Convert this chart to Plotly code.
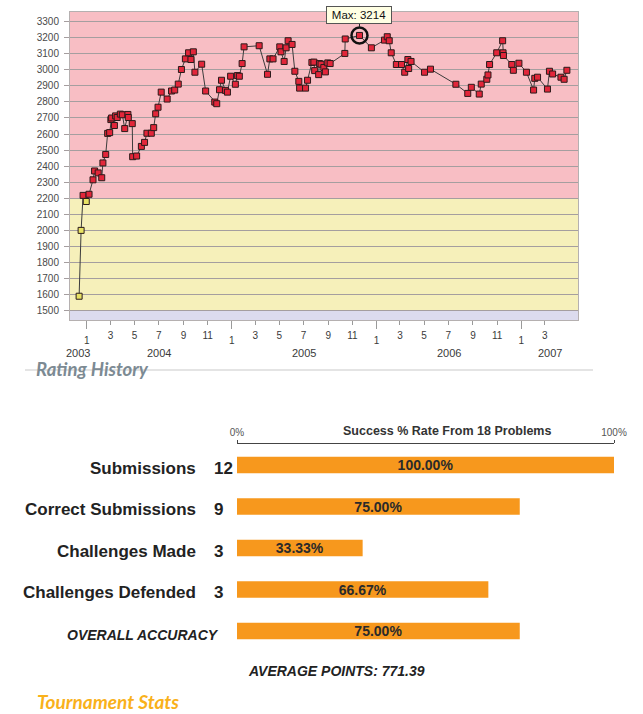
import plotly.graph_objects as go
from datetime import datetime

W, H = 643, 714
def PX(x):
    return x / W
def PY(y):
    return 1 - y / H

# ---------------- data ----------------
rating_dates = [
    "2003-12-13", "2003-12-18", "2003-12-23", "2003-12-31", "2004-01-07", "2004-01-17",
    "2004-01-21", "2004-01-30", "2004-02-08", "2004-02-11", "2004-02-18", "2004-02-23",
    "2004-02-28", "2004-03-02", "2004-03-04", "2004-03-11", "2004-03-14", "2004-03-18",
    "2004-03-26", "2004-03-31", "2004-04-06", "2004-04-14", "2004-04-15", "2004-04-25",
    "2004-04-26", "2004-05-06", "2004-05-18", "2004-05-26", "2004-06-01", "2004-06-12",
    "2004-06-18", "2004-06-23", "2004-06-29", "2004-07-07", "2004-07-22", "2004-08-02",
    "2004-08-10", "2004-08-19", "2004-08-27", "2004-09-06", "2004-09-14", "2004-09-20",
    "2004-09-26", "2004-09-30", "2004-10-17", "2004-10-27", "2004-11-19", "2004-11-24",
    "2004-12-01", "2004-12-06", "2004-12-16", "2004-12-21", "2004-12-29", "2005-01-10",
    "2005-01-15", "2005-01-20", "2005-01-27", "2005-02-01", "2005-03-11", "2005-04-01",
    "2005-04-07", "2005-04-15", "2005-05-02", "2005-05-05", "2005-05-13", "2005-05-18",
    "2005-05-23", "2005-06-02", "2005-06-09", "2005-06-19", "2005-06-21", "2005-07-06",
    "2005-07-11", "2005-07-22", "2005-07-27", "2005-07-29", "2005-08-08", "2005-08-10",
    "2005-08-14", "2005-08-21", "2005-08-25", "2005-08-31", "2005-09-06", "2005-10-13",
    "2005-10-14", "2005-11-19", "2005-12-19", "2006-01-21", "2006-01-28", "2006-02-02",
    "2006-02-07", "2006-02-20", "2006-03-05", "2006-03-13", "2006-03-21", "2006-03-23",
    "2006-03-29", "2006-05-02", "2006-05-17", "2006-07-20", "2006-08-19", "2006-08-28",
    "2006-09-17", "2006-09-22", "2006-10-06", "2006-10-09", "2006-10-13", "2006-10-31",
    "2006-11-15", "2006-11-16", "2006-11-17", "2006-12-08", "2006-12-12", "2006-12-26",
    "2007-01-14", "2007-02-01", "2007-02-04", "2007-02-11", "2007-03-08", "2007-03-13",
    "2007-03-21", "2007-04-11", "2007-04-19", "2007-04-26",
]
rating_values = [
    1590, 2000, 2218, 2180, 2225, 2315,
    2370, 2358, 2328, 2420, 2473, 2604,
    2609, 2690, 2700, 2653, 2713, 2703,
    2724, 2720, 2634, 2722, 2703, 2665,
    2459, 2463, 2523, 2548, 2605, 2605,
    2640, 2726, 2767, 2861, 2818, 2868,
    2874, 2911, 3002, 3068, 3106, 3064,
    3112, 2985, 3035, 2868, 2799, 2789,
    2876, 2935, 2872, 2861, 2960, 2910,
    2964, 2960, 3039, 3143, 3150, 2972,
    3068, 3068, 3143, 3112, 3052, 3137,
    3181, 3158, 2991, 2928, 2886, 2886,
    2935, 3046, 3048, 2995, 2970, 3039,
    3035, 3014, 2987, 3043, 3039, 3102,
    3192, 3214, 3137, 3185, 3206, 3181,
    3106, 3033, 3033, 2985, 3064, 3008,
    3052, 2985, 3004, 2910, 2853, 2891,
    2849, 2911, 2941, 2968, 3033, 3106,
    3181, 3106, 3089, 3033, 2997, 3041,
    2985, 2874, 2947, 2954, 2880, 2991,
    2974, 2954, 2941, 2997,
]

month_tick_dates = [
    "2004-03-01", "2004-05-01", "2004-07-01", "2004-09-01", "2004-11-01",
    "2005-03-01", "2005-05-01", "2005-07-01", "2005-09-01", "2005-11-01",
    "2006-03-01", "2006-05-01", "2006-07-01", "2006-09-01", "2006-11-01",
    "2007-03-01",
]
month_tick_text = ["3", "5", "7", "9", "11",
                   "3", "5", "7", "9", "11",
                   "3", "5", "7", "9", "11",
                   "3"]
jan_tick_dates = ["2004-01-01", "2005-01-01", "2006-01-01", "2007-01-01"]
jan_tick_text = ["1", "1", "1", "1"]
year_labels = ["2003", "2004", "2005", "2006", "2007"]

stat_names = ["Submissions", "Correct Submissions", "Challenges Made",
              "Challenges Defended", "OVERALL ACCURACY"]
stat_counts = [12, 9, 3, 3, None]
stat_pct = [100.00, 75.00, 33.33, 66.67, 75.00]
problems_total = 18
avg_points = 771.39

# ---------------- style constants ----------------
TIER_RED = 2200
TIER_YELLOW = 1500
Y_RANGE = [1442, 3360]
X_RANGE = ["2003-11-20", "2007-05-24"]
RED_FILL = "#e2263a"
YELLOW_FILL = "#e8e264"
RED_BAND = "#f8bec4"
YELLOW_BAND = "#f6f0ba"
LAV_BAND = "#dcdbee"
GRID = "#a59e9f"
BAR_COLOR = "#f7981d"
FONT = "Liberation Sans"

fig = go.Figure()

marker_colors = [RED_FILL if v >= TIER_RED else YELLOW_FILL for v in rating_values]
fig.add_trace(go.Scatter(
    x=rating_dates, y=rating_values, mode="lines+markers",
    line=dict(color="#3c3c3c", width=1),
    marker=dict(symbol="square", size=6, color=marker_colors,
                line=dict(color="#2a1a1a", width=1)),
    xaxis="x", yaxis="y", hoverinfo="skip",
))

imax = max(range(len(rating_values)), key=lambda i: rating_values[i])
fig.add_trace(go.Scatter(
    x=[rating_dates[imax]], y=[rating_values[imax]], mode="markers",
    marker=dict(symbol="circle-open", size=16, color="#111111",
                line=dict(color="#111111", width=2.5)),
    xaxis="x", yaxis="y", hoverinfo="skip",
))
# empty trace that materialises the January-tick overlay axis
fig.add_trace(go.Scatter(x=[], y=[], xaxis="x2", yaxis="y", hoverinfo="skip"))

fig.add_trace(go.Bar(
    y=stat_names, x=stat_pct, orientation="h", xaxis="x3", yaxis="y3",
    width=0.4, marker=dict(color=BAR_COLOR, line=dict(width=0)),
    text=[f"{v:.2f}%" for v in stat_pct], textposition="inside",
    insidetextanchor="middle", constraintext="none",
    textfont=dict(family=FONT, size=14, color="#2a2a2a", weight="bold"),
    hoverinfo="skip",
))

shapes = [
    dict(type="rect", xref="x domain", yref="y", x0=0, x1=1, y0=TIER_RED, y1=Y_RANGE[1],
         fillcolor=RED_BAND, line=dict(width=0), layer="below"),
    dict(type="rect", xref="x domain", yref="y", x0=0, x1=1, y0=TIER_YELLOW, y1=TIER_RED,
         fillcolor=YELLOW_BAND, line=dict(width=0), layer="below"),
    dict(type="rect", xref="x domain", yref="y", x0=0, x1=1, y0=Y_RANGE[0], y1=TIER_YELLOW,
         fillcolor=LAV_BAND, line=dict(width=0), layer="below"),
    dict(type="line", xref="paper", yref="paper", x0=PX(25), x1=PX(593), y0=PY(370), y1=PY(370),
         line=dict(color="#c9c9c9", width=1)),
]

annotations = []
annotations.append(dict(
    x=rating_dates[imax], y=rating_values[imax], xref="x", yref="y",
    text=f"Max: {rating_values[imax]}", showarrow=True, arrowhead=0, arrowwidth=1,
    arrowcolor="#222222", ax=0, ay=-20, standoff=8,
    font=dict(family=FONT, size=11.5, color="#111111"),
    bgcolor="#ffffe3", bordercolor="#555555", borderwidth=1, borderpad=2, width=60,
))
xa = datetime.fromisoformat(X_RANGE[0])
xb = datetime.fromisoformat(X_RANGE[1])
for yl in year_labels:
    a = max(xa, datetime(int(yl), 1, 1))
    b = min(xb, datetime(int(yl) + 1, 1, 1))
    c = a + (b - a) / 2
    annotations.append(dict(
        x=c.strftime("%Y-%m-%d %H:%M"), xref="x", y=PY(353), yref="paper",
        text=yl, showarrow=False, yanchor="middle",
        font=dict(family=FONT, size=11, color="#3a3a3a"),
    ))

annotations.append(dict(
    x=PX(34), y=PY(369), xref="paper", yref="paper", xanchor="left", yanchor="middle",
    text="<b><i>Rating History</i></b>", showarrow=False,
    font=dict(family="Lato", size=18.5, color="#7c8a93"),
))

for name, cnt in zip(stat_names, stat_counts):
    if cnt is not None:
        annotations.append(dict(
            x=PX(198), y=name, xref="paper", yref="y3", xanchor="right", yanchor="middle",
            yshift=-3, text=f"<b>{name}</b>", showarrow=False,
            font=dict(family=FONT, size=17, color="#222222"),
        ))
        annotations.append(dict(
            x=PX(212), y=name, xref="paper", yref="y3", xanchor="left", yanchor="middle",
            yshift=-3, text=f"<b>{cnt}</b>", showarrow=False,
            font=dict(family=FONT, size=17, color="#222222"),
        ))
    else:
        annotations.append(dict(
            x=PX(221), y=name, xref="paper", yref="y3", xanchor="right", yanchor="middle",
            yshift=-4, text=f"<b><i>{name}</i></b>", showarrow=False,
            font=dict(family=FONT, size=14, color="#222222"),
        ))

annotations.append(dict(
    x=PX(447), y=PY(431), xref="paper", yref="paper", xanchor="center", yanchor="middle",
    text=f"<b>Success % Rate From {problems_total} Problems</b>", showarrow=False,
    font=dict(family=FONT, size=12.5, color="#333333"),
))
annotations.append(dict(
    x=PX(336), y=PY(671), xref="paper", yref="paper", xanchor="center", yanchor="middle",
    text=f"<b><i>AVERAGE POINTS: {avg_points:.2f}</i></b>", showarrow=False,
    font=dict(family=FONT, size=14, color="#222222"),
))
annotations.append(dict(
    x=PX(35), y=PY(701), xref="paper", yref="paper", xanchor="left", yanchor="middle",
    text="<b><i>Tournament Stats</i></b>", showarrow=False,
    font=dict(family="Lato", size=19, color="#f9b11b"),
))

X_DOM = [PX(70), PX(578)]
Y_DOM = [PY(320), PY(12)]

fig.update_layout(
    width=W, height=H, autosize=False, margin=dict(l=0, r=0, t=0, b=0, pad=0),
    paper_bgcolor="white", plot_bgcolor="rgba(0,0,0,0)", showlegend=False,
    font=dict(family=FONT),
    xaxis=dict(
        domain=X_DOM, anchor="y", type="date", range=X_RANGE, automargin=False,
        tickmode="array", tickvals=month_tick_dates, ticktext=month_tick_text,
        ticks="outside", ticklen=4, tickcolor="#9a9a9a", tickwidth=1, ticklabelstandoff=2,
        tickfont=dict(family=FONT, size=10, color="#3a3a3a"),
        showgrid=False, zeroline=False, showline=True, mirror=True,
        linecolor="#b5b0b0", linewidth=1,
    ),
    xaxis2=dict(
        domain=X_DOM, anchor="y", overlaying="x", type="date", range=X_RANGE, automargin=False,
        tickmode="array", tickvals=jan_tick_dates, ticktext=jan_tick_text,
        ticks="outside", ticklen=8, tickcolor="#9a9a9a", tickwidth=1, ticklabelstandoff=3,
        tickfont=dict(family=FONT, size=10, color="#3a3a3a"),
        showgrid=False, zeroline=False, showline=False,
    ),
    yaxis=dict(
        domain=Y_DOM, anchor="x", range=Y_RANGE, tick0=1500, dtick=100, automargin=False,
        ticks="outside", ticklen=5, tickcolor=GRID, tickwidth=1, ticklabelstandoff=3,
        tickfont=dict(family=FONT, size=10, color="#4a4a4a"),
        showgrid=True, gridcolor=GRID, gridwidth=1, zeroline=False,
        showline=True, mirror=True, linecolor="#b5b0b0", linewidth=1,
    ),
    xaxis3=dict(
        domain=[PX(237), PX(614)], anchor="y3", side="top", range=[0, 100], automargin=False,
        tickmode="array", tickvals=[0, 100], ticktext=["0%", "100%"],
        ticks="outside", ticklen=3, tickcolor="#444444",
        tickfont=dict(family=FONT, size=10, color="#555555"),
        showgrid=False, zeroline=False, showline=True, linecolor="#444444", linewidth=1,
    ),
    yaxis3=dict(
        domain=[PY(651.8), PY(444.3)], anchor="x3", type="category", automargin=False,
        categoryorder="array", categoryarray=stat_names, autorange="reversed",
        showticklabels=False, showgrid=False, zeroline=False, showline=False, ticks="",
    ),
    shapes=shapes, annotations=annotations,
)

fig.write_html(
    "out.html",
    config={"responsive": False, "displayModeBar": False, "staticPlot": True},
    post_script="document.body.style.margin='0';document.body.style.overflow='hidden';",
)
